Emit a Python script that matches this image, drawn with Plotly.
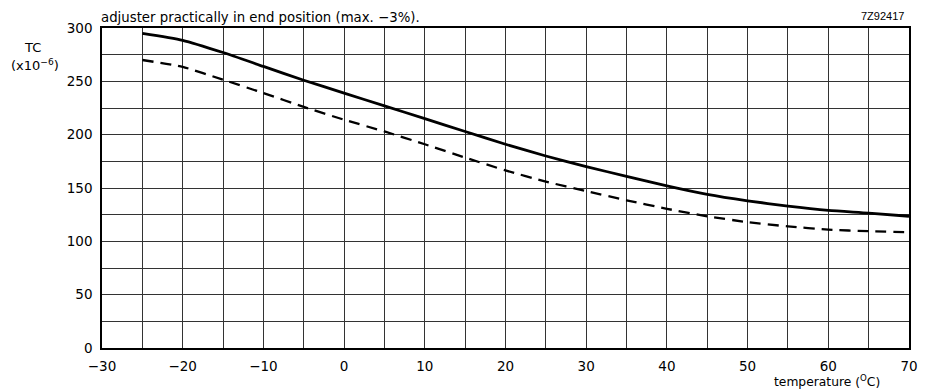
import plotly.graph_objects as go

temperature = [-25, -20, -15, -10, -5, 0, 5, 10, 15, 20, 25, 30, 35, 40, 45, 50, 55, 60, 65, 70]
tc_solid = [295, 288.5, 277, 264, 251, 239, 227, 215, 203, 191, 180, 170, 161, 152, 144, 138, 133, 129, 126.5, 123.5]
tc_dashed = [270, 263.5, 251.5, 239, 226, 214, 203, 191, 178.5, 166.5, 156, 147, 138.5, 130.5, 123.5, 118, 114, 111, 109.5, 108.5]

x_ticks = [-30, -20, -10, 0, 10, 20, 30, 40, 50, 60, 70]
x_ticktext = ["\u221230", "\u221220", "\u221210", "0", "10", "20", "30", "40", "50", "60", "70"]
y_ticks = [0, 50, 100, 150, 200, 250, 300]

FONT = "DejaVu Sans, Verdana, sans-serif"
GRID = "#333333"

fig = go.Figure()
fig.add_trace(go.Scatter(x=temperature, y=tc_solid, mode="lines",
                         line=dict(color="black", width=2.8, shape="spline", smoothing=0.6),
                         showlegend=False))
fig.add_trace(go.Scatter(x=temperature, y=tc_dashed, mode="lines",
                         line=dict(color="black", width=2.3, dash="11px,7px", shape="spline", smoothing=0.6),
                         showlegend=False))

fig.update_layout(
    width=922, height=381,
    margin=dict(l=94, r=19, t=19, b=41),
    paper_bgcolor="white", plot_bgcolor="white",
    font=dict(family=FONT, size=13, color="black"),
    xaxis=dict(range=[-30, 70], tickvals=x_ticks, ticktext=x_ticktext,
               showgrid=True, gridcolor=GRID, gridwidth=1,
               minor=dict(dtick=5, showgrid=True, gridcolor=GRID, gridwidth=1),
               showline=True, linecolor="black", linewidth=1.5, mirror=True,
               zeroline=False, ticks="", ticklabelstandoff=5,
               tickfont=dict(size=13.5)),
    yaxis=dict(range=[0, 300], tickvals=y_ticks,
               showgrid=True, gridcolor=GRID, gridwidth=1,
               minor=dict(dtick=25, showgrid=True, gridcolor=GRID, gridwidth=1),
               showline=True, linecolor="black", linewidth=1.5, mirror=True,
               zeroline=False, ticks="", ticklabelstandoff=5,
               tickfont=dict(size=13.5)),
    annotations=[
        dict(text="adjuster practically in end position (max. \u22123%).", xref="paper", yref="paper",
             x=0.0, y=1.0, xanchor="left", yanchor="bottom", yshift=1, xshift=-3, showarrow=False,
             font=dict(size=13.3)),
        dict(text="7Z92417", xref="paper", yref="paper", x=1.0, y=1.0, xanchor="right",
             yanchor="bottom", yshift=4, xshift=-3, showarrow=False,
             font=dict(size=11, family="Liberation Sans, Arial, sans-serif")),
        dict(text="TC", xref="paper", yref="paper", x=0, y=1, xanchor="center", yanchor="middle",
             xshift=-70, yshift=-19, showarrow=False, font=dict(size=13)),
        dict(text="(x10<sup>\u22126</sup>)", xref="paper", yref="paper", x=0, y=1, xanchor="center",
             yanchor="middle", xshift=-67, yshift=-37, showarrow=False, font=dict(size=13)),
        dict(text="temperature (<sup>O</sup>C)", xref="paper", yref="paper", x=1, y=0,
             xanchor="right", yanchor="top", yshift=-23, xshift=-27, showarrow=False,
             font=dict(size=12.3)),
    ],
)

fig.write_html("out.html")
